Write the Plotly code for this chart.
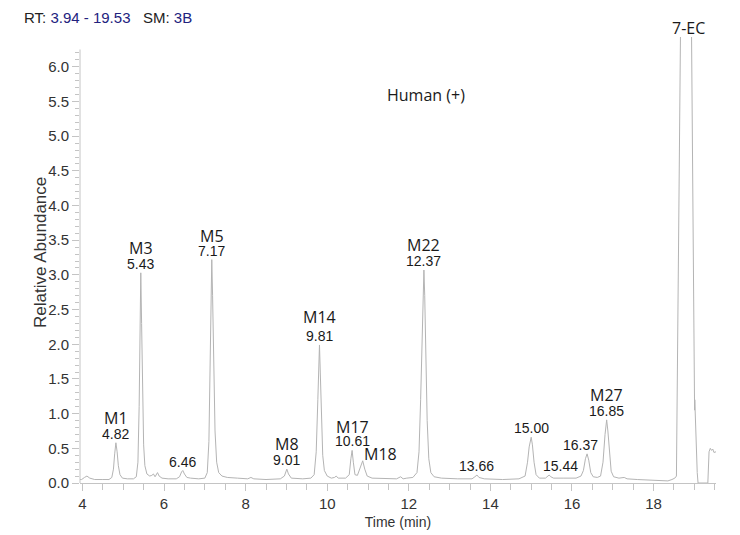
import plotly.graph_objects as go

# ---- chromatogram trace (retention time in min, relative abundance) ----
rt = [3.94, 3.98, 4.05, 4.11, 4.18, 4.30, 4.50, 4.65, 4.72, 4.76, 4.79, 4.82, 4.85, 4.88, 4.92, 4.98,
      5.10, 5.25, 5.32, 5.36, 5.39, 5.41, 5.43, 5.45, 5.47, 5.50, 5.53, 5.58, 5.65, 5.70, 5.74, 5.78,
      5.84, 5.88, 5.95, 6.10, 6.30, 6.38, 6.43, 6.46, 6.50, 6.56, 6.65, 6.85, 7.00, 7.06, 7.10, 7.13,
      7.15, 7.17, 7.19, 7.22, 7.25, 7.29, 7.34, 7.42, 7.55, 7.80, 8.05, 8.13, 8.20, 8.50, 8.85, 8.95,
      9.01, 9.05, 9.12, 9.40, 9.60, 9.68, 9.73, 9.77, 9.79, 9.81, 9.83, 9.86, 9.89, 9.93, 10.00, 10.10,
      10.18, 10.22, 10.27, 10.45, 10.54, 10.58, 10.61, 10.64, 10.68, 10.74, 10.80, 10.87, 10.92, 10.98,
      11.10, 11.40, 11.70, 11.80, 11.86, 11.95, 12.02, 12.10, 12.20, 12.25, 12.29, 12.32, 12.35, 12.37,
      12.39, 12.42, 12.45, 12.49, 12.54, 12.62, 12.80, 13.20, 13.55, 13.62, 13.67, 13.72, 13.85, 14.30,
      14.70, 14.85, 14.91, 14.95, 15.00, 15.03, 15.07, 15.12, 15.20, 15.35, 15.40, 15.44, 15.48, 15.55,
      15.80, 16.10, 16.22, 16.28, 16.33, 16.37, 16.41, 16.46, 16.52, 16.62, 16.70, 16.76, 16.81, 16.85,
      16.88, 16.92, 16.96, 17.02, 17.15, 17.28, 17.35, 17.60, 18.00, 18.35, 18.45, 18.52, 18.56, 18.80,
      18.93, 18.97, 18.99, 19.00, 19.005, 19.01, 19.04, 19.07, 19.09, 19.33, 19.36, 19.39, 19.42, 19.45,
      19.48, 19.53]
abundance = [0.05, 0.05, 0.08, 0.10, 0.07, 0.05, 0.05, 0.05, 0.08, 0.20, 0.42, 0.58, 0.45, 0.25, 0.12, 0.07,
             0.06, 0.06, 0.09, 0.30, 1.10, 2.10, 3.03, 2.30, 1.30, 0.55, 0.25, 0.13, 0.10, 0.11, 0.13, 0.09,
             0.15, 0.10, 0.07, 0.06, 0.06, 0.09, 0.16, 0.18, 0.13, 0.08, 0.07, 0.06, 0.07, 0.15, 0.60, 1.60,
             2.60, 3.22, 2.70, 1.60, 0.75, 0.30, 0.15, 0.10, 0.08, 0.07, 0.06, 0.08, 0.06, 0.05, 0.06, 0.10,
             0.20, 0.13, 0.07, 0.06, 0.07, 0.12, 0.45, 1.20, 1.60, 1.99, 1.60, 0.90, 0.40, 0.18, 0.10, 0.07,
             0.08, 0.10, 0.07, 0.07, 0.12, 0.35, 0.47, 0.30, 0.12, 0.11, 0.20, 0.32, 0.20, 0.10,
             0.07, 0.06, 0.06, 0.09, 0.06, 0.07, 0.07, 0.08, 0.15, 0.45, 1.20, 2.00, 2.70, 3.07,
             2.70, 1.80, 0.90, 0.35, 0.15, 0.09, 0.07, 0.06, 0.06, 0.09, 0.115, 0.08, 0.06, 0.05,
             0.06, 0.10, 0.30, 0.52, 0.66, 0.55, 0.30, 0.12, 0.07, 0.07, 0.10, 0.115, 0.09, 0.07,
             0.07, 0.07, 0.10, 0.18, 0.35, 0.42, 0.33, 0.15, 0.09, 0.08, 0.10, 0.30, 0.70, 0.91,
             0.75, 0.40, 0.17, 0.09, 0.07, 0.08, 0.06, 0.05, 0.04, 0.03, 0.05, 0.07, 0.10, 15.5,
             6.50, 3.00, 1.60, 1.34, 1.05, 1.20, 0.60, 0.15, 0.00, 0.00, 0.45, 0.50, 0.47, 0.49,
             0.44, 0.45]

# ---- peak labels ----
label_rt = [4.82, 5.43, 7.17, 9.01, 9.81, 10.61, 12.37, 16.85]
label_height = [0.58, 3.03, 3.22, 0.20, 1.99, 0.47, 3.07, 0.91]
label_name = ["M1", "M3", "M5", "M8", "M14", "M17", "M22", "M27"]
name_shift = [25, 25, 24, 25, 28, 23, 25, 25]

rt_only = [6.46, 13.66, 15.00, 15.44, 16.37]
rt_only_height = [0.18, 0.115, 0.66, 0.115, 0.42]
rt_only_xshift = [0, 0, 0, 11, -7]

m18_rt, m18_height = 10.87, 0.32

y_ticks = [0.0, 0.5, 1.0, 1.5, 2.0, 2.5, 3.0, 3.5, 4.0, 4.5, 5.0, 5.5, 6.0]
x_ticks = [4, 6, 8, 10, 12, 14, 16, 18]

AX = "#c4c4c4"
TXT = "#333333"
NUM_FONT = dict(family="Liberation Sans, Arial", size=14, color="#1a1a1a")
NAME_FONT = dict(family="Open Sans", size=16, color="#1a1a1a")

fig = go.Figure()
fig.add_trace(go.Scatter(x=rt, y=abundance, mode="lines",
                         line=dict(color="#b4b4b4", width=1), hoverinfo="skip"))

ann = []
for x, h, n, s in zip(label_rt, label_height, label_name, name_shift):
    ann.append(dict(x=x, y=h, text=f"{x:.2f}", showarrow=False, yanchor="middle",
                    yshift=9, font=NUM_FONT))
    ann.append(dict(x=x, y=h, text=n, showarrow=False, yanchor="middle",
                    yshift=s, font=NAME_FONT))
for x, h, xs in zip(rt_only, rt_only_height, rt_only_xshift):
    ann.append(dict(x=x, y=h, text=f"{x:.2f}", showarrow=False, yanchor="middle",
                    yshift=9, xshift=xs, font=NUM_FONT))
ann.append(dict(x=m18_rt, y=m18_height, text="M18", showarrow=False, xanchor="left",
                yanchor="middle", yshift=7, xshift=-1, font=NAME_FONT))
ann.append(dict(x=18.85, y=1, yref="paper", text="7-EC", showarrow=False,
                yanchor="middle", yshift=9, font=NAME_FONT))
ann.append(dict(x=0.544, xref="paper", y=5.59, text="Human (+)", showarrow=False,
                yanchor="middle", font=NAME_FONT))
ann.append(dict(x=-0.063, xref="paper", y=3.33, text="Relative Abundance", textangle=-90,
                showarrow=False, xanchor="center", yanchor="middle",
                font=dict(family="Liberation Sans, Arial", size=17, color=TXT)))
ann.append(dict(x=-0.091, xref="paper", xanchor="left", y=1.043, yref="paper",
                yanchor="middle",
                text=("<span style='color:#222'>RT:</span> <span style='color:#22227e'>3.94 - 19.53</span>"
                      "&nbsp;&nbsp;&nbsp;<span style='color:#222'>SM:</span> <span style='color:#22227e'>3B</span>"),
                showarrow=False, font=dict(family="Liberation Sans, Arial", size=15)))

fig.update_layout(
    width=740, height=535,
    margin=dict(l=80, r=24, t=37, b=52, autoexpand=False),
    paper_bgcolor="white", plot_bgcolor="white",
    showlegend=False,
    annotations=ann,
    shapes=[dict(type="line", xref="paper", x0=0, x1=0, yref="y", y0=0, y1=6.25,
                 line=dict(color=AX, width=1))],
    font=dict(family="Liberation Sans, Arial", size=14, color=TXT),
)
fig.update_xaxes(range=[3.94, 19.53], showline=True, linecolor=AX, linewidth=1, automargin=False,
                 showgrid=False, zeroline=False, ticks="outside", ticklen=7, tickcolor=AX,
                 tickvals=x_ticks, ticktext=[str(v) for v in x_ticks],
                 tickfont=dict(size=15, color=TXT),
                 minor=dict(dtick=0.5, tick0=4, ticks="outside", ticklen=6, tickcolor=AX),
                 title=dict(text="Time (min)", font=dict(size=14, color=TXT), standoff=6))
fig.update_yaxes(range=[0, 6.43], showline=False, showgrid=False, zeroline=False, automargin=False,
                 ticks="outside", ticklen=7, tickcolor=AX,
                 tickvals=y_ticks, ticktext=[f"{v:.1f}" for v in y_ticks],
                 tickfont=dict(size=15, color=TXT),
                 minor=dict(tickvals=[i / 10 for i in range(0, 63)], ticks="outside",
                            ticklen=4, tickcolor=AX))

fig.write_html("out.html", config={"displayModeBar": False},
               post_script="document.body.style.margin='0';document.body.style.overflow='hidden';")
